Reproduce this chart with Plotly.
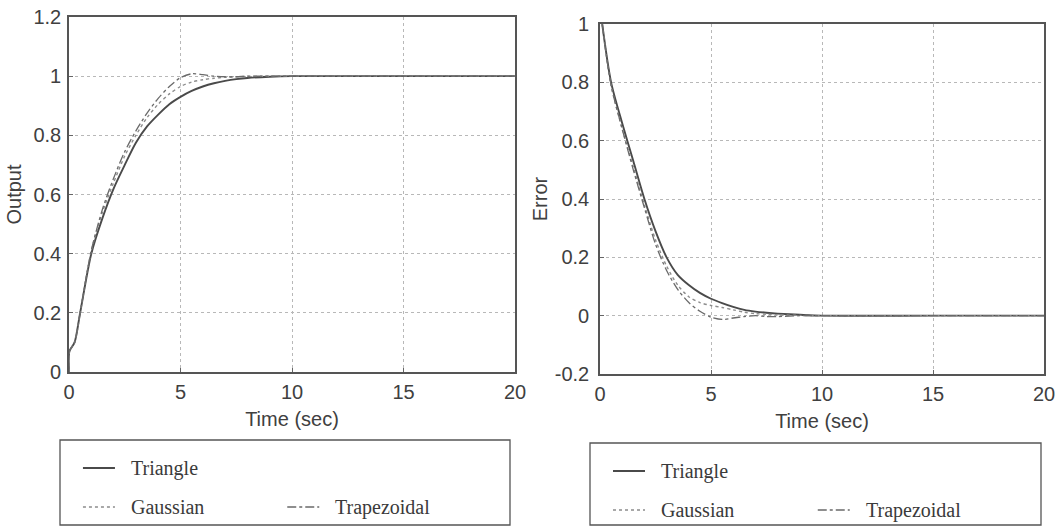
import plotly.graph_objects as go

# Step response of the closed loop for three membership-function shapes
t_out = [0, 0.02, 0.25, 0.5, 1, 1.5, 2, 2.5, 3, 3.5, 4, 4.5, 5, 5.5, 6, 6.5, 7, 7.5, 8, 9, 10, 15, 20]
out_triangle = [0, 0.07, 0.1, 0.2, 0.4, 0.52, 0.62, 0.7, 0.775, 0.83, 0.87, 0.905, 0.93, 0.95, 0.965, 0.976, 0.984, 0.99, 0.994, 0.998, 1.0, 1.0, 1.0]
out_gaussian = [0, 0.07, 0.1, 0.2, 0.41, 0.54, 0.64, 0.73, 0.8, 0.86, 0.905, 0.94, 0.965, 0.98, 0.988, 0.993, 0.996, 0.998, 0.999, 1.0, 1.0, 1.0, 1.0]
out_trapezoidal = [0, 0.07, 0.1, 0.2, 0.41, 0.55, 0.655, 0.745, 0.815, 0.875, 0.925, 0.965, 0.995, 1.008, 1.005, 1.0, 0.998, 0.998, 1.0, 1.0, 1.0, 1.0, 1.0]

# Tracking error for the same runs
t_err = [0.1, 0.5, 1, 1.5, 2, 2.5, 3, 3.5, 4, 4.5, 5, 5.5, 6, 6.5, 7, 7.5, 8, 9, 10, 15, 20]
err_triangle = [1.0, 0.8, 0.66, 0.53, 0.4, 0.29, 0.2, 0.14, 0.105, 0.078, 0.058, 0.043, 0.03, 0.02, 0.014, 0.01, 0.007, 0.003, 0.0, 0.0, 0.0]
err_gaussian = [1.0, 0.79, 0.64, 0.51, 0.38, 0.26, 0.17, 0.105, 0.065, 0.045, 0.035, 0.028, 0.02, 0.012, 0.007, 0.005, 0.003, 0.001, 0.0, 0.0, 0.0]
err_trapezoidal = [1.0, 0.79, 0.64, 0.5, 0.37, 0.245, 0.155, 0.09, 0.045, 0.015, -0.005, -0.013, -0.008, -0.003, 0.0, -0.003, -0.003, 0.0, 0.0, 0.0, 0.0]

x_ticks = [0, 5, 10, 15, 20]
out_ticks = [0, 0.2, 0.4, 0.6, 0.8, 1, 1.2]
out_tick_text = ["0", "0.2", "0.4", "0.6", "0.8", "1", "1.2"]
err_ticks = [-0.2, 0, 0.2, 0.4, 0.6, 0.8, 1]
err_tick_text = ["-0.2", "0", "0.2", "0.4", "0.6", "0.8", "1"]

series_names = ["Triangle", "Gaussian", "Trapezoidal"]

W, H = 1063, 529
styles = {
    "Triangle": dict(color="#4a4a4a", width=1.9, dash="solid"),
    "Gaussian": dict(color="#8c8c8c", width=1.4, dash="dot"),
    "Trapezoidal": dict(color="#6a6a6a", width=1.3, dash="dashdot"),
}


def px_x(p):
    return p / W


def px_y(p):
    return 1 - p / H


fig = go.Figure()

for name, ys in zip(series_names, [out_triangle, out_gaussian, out_trapezoidal]):
    fig.add_trace(go.Scatter(x=t_out, y=ys, mode="lines", name=name,
                             line=dict(shape="spline", smoothing=0.8, **styles[name]),
                             xaxis="x", yaxis="y", showlegend=False))

for name, ys in zip(series_names, [err_triangle, err_gaussian, err_trapezoidal]):
    fig.add_trace(go.Scatter(x=t_err, y=ys, mode="lines", name=name,
                             line=dict(shape="spline", smoothing=0.8, **styles[name]),
                             xaxis="x2", yaxis="y2", showlegend=False))

tick_font = dict(family="Liberation Sans, Arial, sans-serif", size=20, color="#404040")
title_font = dict(family="Liberation Sans, Arial, sans-serif", size=20, color="#404040")

axis_common = dict(
    showline=True, mirror=True, linecolor="#555555", linewidth=1.6,
    showgrid=True, gridcolor="#b8b8b8", griddash="dot", gridwidth=1,
    zeroline=False, ticks="inside", ticklen=4, tickcolor="#666666",
    tickfont=tick_font, automargin=False,
)

fig.update_layout(
    width=W, height=H,
    margin=dict(l=0, r=0, t=0, b=0),
    paper_bgcolor="white", plot_bgcolor="white",
    xaxis=dict(domain=[px_x(69), px_x(515)], range=[0, 20], tickvals=x_ticks, ticklabelstandoff=1,
               title=dict(text="Time (sec)", font=title_font, standoff=10), anchor="y", **axis_common),
    yaxis=dict(domain=[px_y(372), px_y(17)], range=[0, 1.2], tickvals=out_ticks, ticktext=out_tick_text,
               ticklabelstandoff=2,
               title=dict(text="Output", font=title_font, standoff=6), anchor="x", **axis_common),
    xaxis2=dict(domain=[px_x(600), px_x(1044)], range=[0, 20], tickvals=x_ticks, ticklabelstandoff=1,
                title=dict(text="Time (sec)", font=title_font, standoff=10), anchor="y2", **axis_common),
    yaxis2=dict(domain=[px_y(374), px_y(24)], range=[-0.2, 1], tickvals=err_ticks, ticktext=err_tick_text,
                ticklabelstandoff=5,
                title=dict(text="Error", font=title_font, standoff=2), anchor="x2", **axis_common),
)

# Legend panels under each plot
legend_font = dict(family="Liberation Serif, Times New Roman, serif", size=20, color="#3a3a3a")


def legend_panel(x0, x1, y0, y1):
    fig.add_shape(type="rect", xref="paper", yref="paper",
                  x0=px_x(x0), x1=px_x(x1), y0=px_y(y1), y1=px_y(y0),
                  line=dict(color="#555555", width=1.3), fillcolor="rgba(0,0,0,0)")
    bw = x1 - x0
    rows = [
        ("Triangle", x0 + 0.051 * bw, y0 + 28),
        ("Gaussian", x0 + 0.051 * bw, y0 + 67),
        ("Trapezoidal", x0 + 0.505 * bw, y0 + 67),
    ]
    for name, sx, sy in rows:
        st = styles[name]
        fig.add_shape(type="line", xref="paper", yref="paper",
                      x0=px_x(sx), x1=px_x(sx + 32), y0=px_y(sy), y1=px_y(sy),
                      line=dict(color=st["color"], width=st["width"], dash=st["dash"]))
        fig.add_annotation(x=px_x(sx + 46), y=px_y(sy), xref="paper", yref="paper",
                           text=name, showarrow=False, xanchor="left", yanchor="middle",
                           font=legend_font)


legend_panel(60, 510, 440, 525)
legend_panel(590, 1041, 443, 525)

fig.write_html("out.html")
